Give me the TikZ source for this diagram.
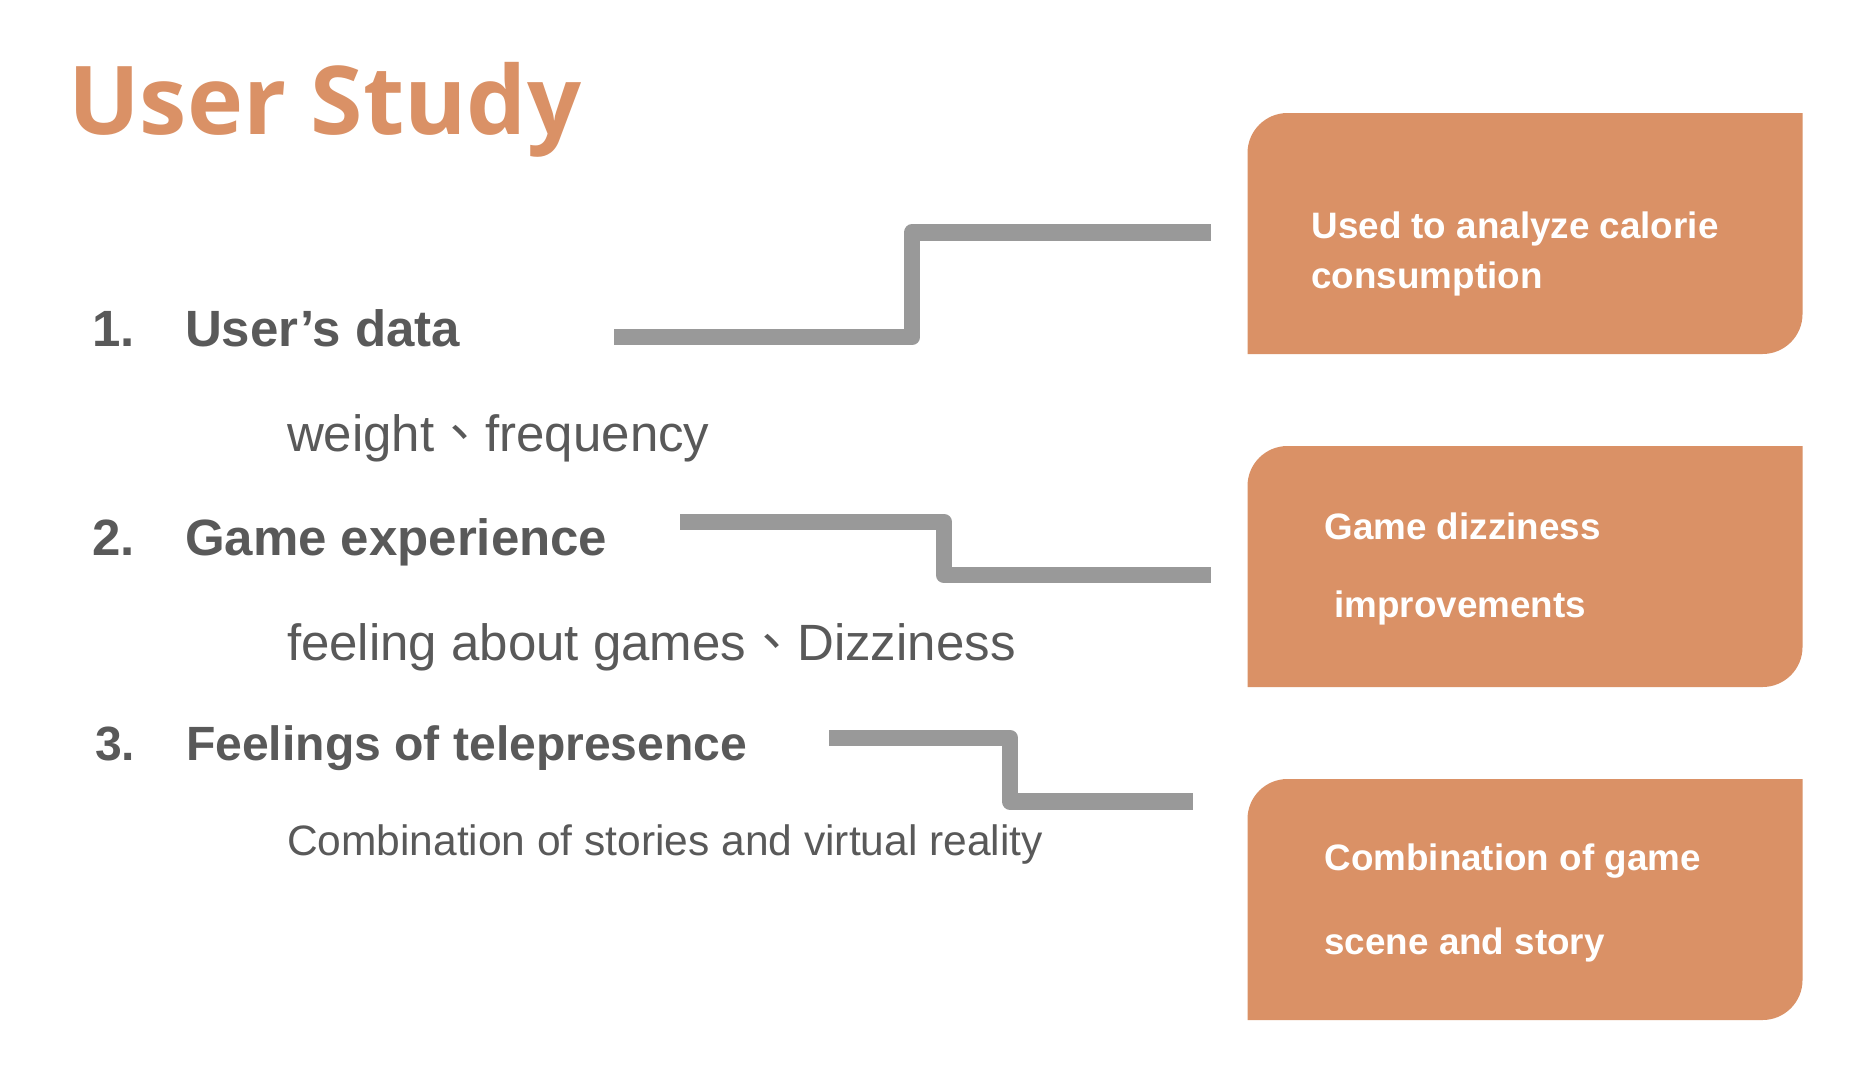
\documentclass[tikz,border=0pt]{standalone}
\usepackage{fontspec}
\setmainfont{Liberation Sans}
\newfontfamily\cjkfont{Noto Sans CJK TC}
\newfontfamily\titlefont{Open Sans}
\definecolor{accent}{HTML}{DA9166}
\definecolor{txtgray}{HTML}{595959}
\definecolor{linegray}{HTML}{999999}
\tikzset{
  every node/.style={inner sep=0pt, outer sep=0pt, anchor=base west},
  titletext/.style={text=accent, font=\titlefont\bfseries\fontsize{95}{110}\selectfont},
  headtext/.style={text=txtgray, font=\bfseries\fontsize{51}{60}\selectfont},
  headsmall/.style={text=txtgray, font=\bfseries\fontsize{48.1}{56}\selectfont},
  subtext/.style={text=txtgray, font=\fontsize{51}{60}\selectfont},
  smalltext/.style={text=txtgray, font=\fontsize{42.5}{50}\selectfont},
  boxtext/.style={text=white, font=\bfseries\fontsize{36.8}{44}\selectfont},
  boxframe/.style={minimum width=555pt, minimum height=241pt, anchor=north west},
  connector/.style={draw=linegray, line width=16.5pt, line join=round},
}
\newcommand{\tabfill}[1]{%
  \fill[accent] (#1.south west) -- ([yshift=-40pt]#1.north west)
    arc[start angle=180, end angle=90, radius=40pt] -- (#1.north east)
    -- ([yshift=40pt]#1.south east)
    arc[start angle=0, end angle=-90, radius=40pt] -- cycle;}
\begin{document}
\begin{tikzpicture}[x=1pt,y=1pt]
\useasboundingbox (0,0) rectangle (1870,-1090);
\fill[white] (0,0) rectangle (1870,-1090);

% title
\node[titletext] (title) at (68,-134.5) {User Study};

% left list
\node[headtext] (n1) at (92.5,-346.5) {1.};
\node[headtext] (h1) at (185,-346.5) {User’s data};
\node[subtext] (s1) at (287,-451) {weight{\cjkfont 、}frequency};

\node[headtext] (n2) at (92.5,-555) {2.};
\node[headtext] (h2) at (185,-555) {Game experience};
\node[subtext] (s2) at (287,-660) {feeling about games{\cjkfont 、}Dizziness};

\node[headsmall] (n3) at (95,-760.5) {3.};
\node[headsmall] (h3) at (186,-760.5) {Feelings of telepresence};
\node[smalltext] (s3) at (287,-855) {Combination of stories and virtual reality};

% boxes
\node[boxframe] (b1) at (1247.5,-113) {};
\node[boxframe] (b2) at (1247.5,-446) {};
\node[boxframe] (b3) at (1247.5,-779) {};
\tabfill{b1}
\tabfill{b2}
\tabfill{b3}

\node[boxtext] (t1a) at (1311.5,-238) {Used to analyze calorie};
\node[boxtext] (t1b) at (1311.5,-288) {consumption};
\node[boxtext] (t2a) at (1324.5,-539) {Game dizziness};
\node[boxtext] (t2b) at (1334.5,-617) {improvements};
\node[boxtext] (t3a) at (1324.5,-870) {Combination of game};
\node[boxtext] (t3b) at (1324.5,-954.5) {scene and story};

% connectors
\coordinate (c1s) at (614,-337);
\coordinate (c1k) at (912,-232.5);
\coordinate (c1e) at (1210.5,-232.5);
\coordinate (c2s) at (680,-522);
\coordinate (c2k) at (944,-575);
\coordinate (c2e) at (1210.5,-575);
\coordinate (c3s) at (829,-738);
\coordinate (c3k) at (1010,-801.5);
\coordinate (c3e) at (1192.5,-801.5);
\draw[connector] (c1s) -| (c1k) -- (c1e);
\draw[connector] (c2s) -| (c2k) -- (c2e);
\draw[connector] (c3s) -| (c3k) -- (c3e);
\end{tikzpicture}
\end{document}
